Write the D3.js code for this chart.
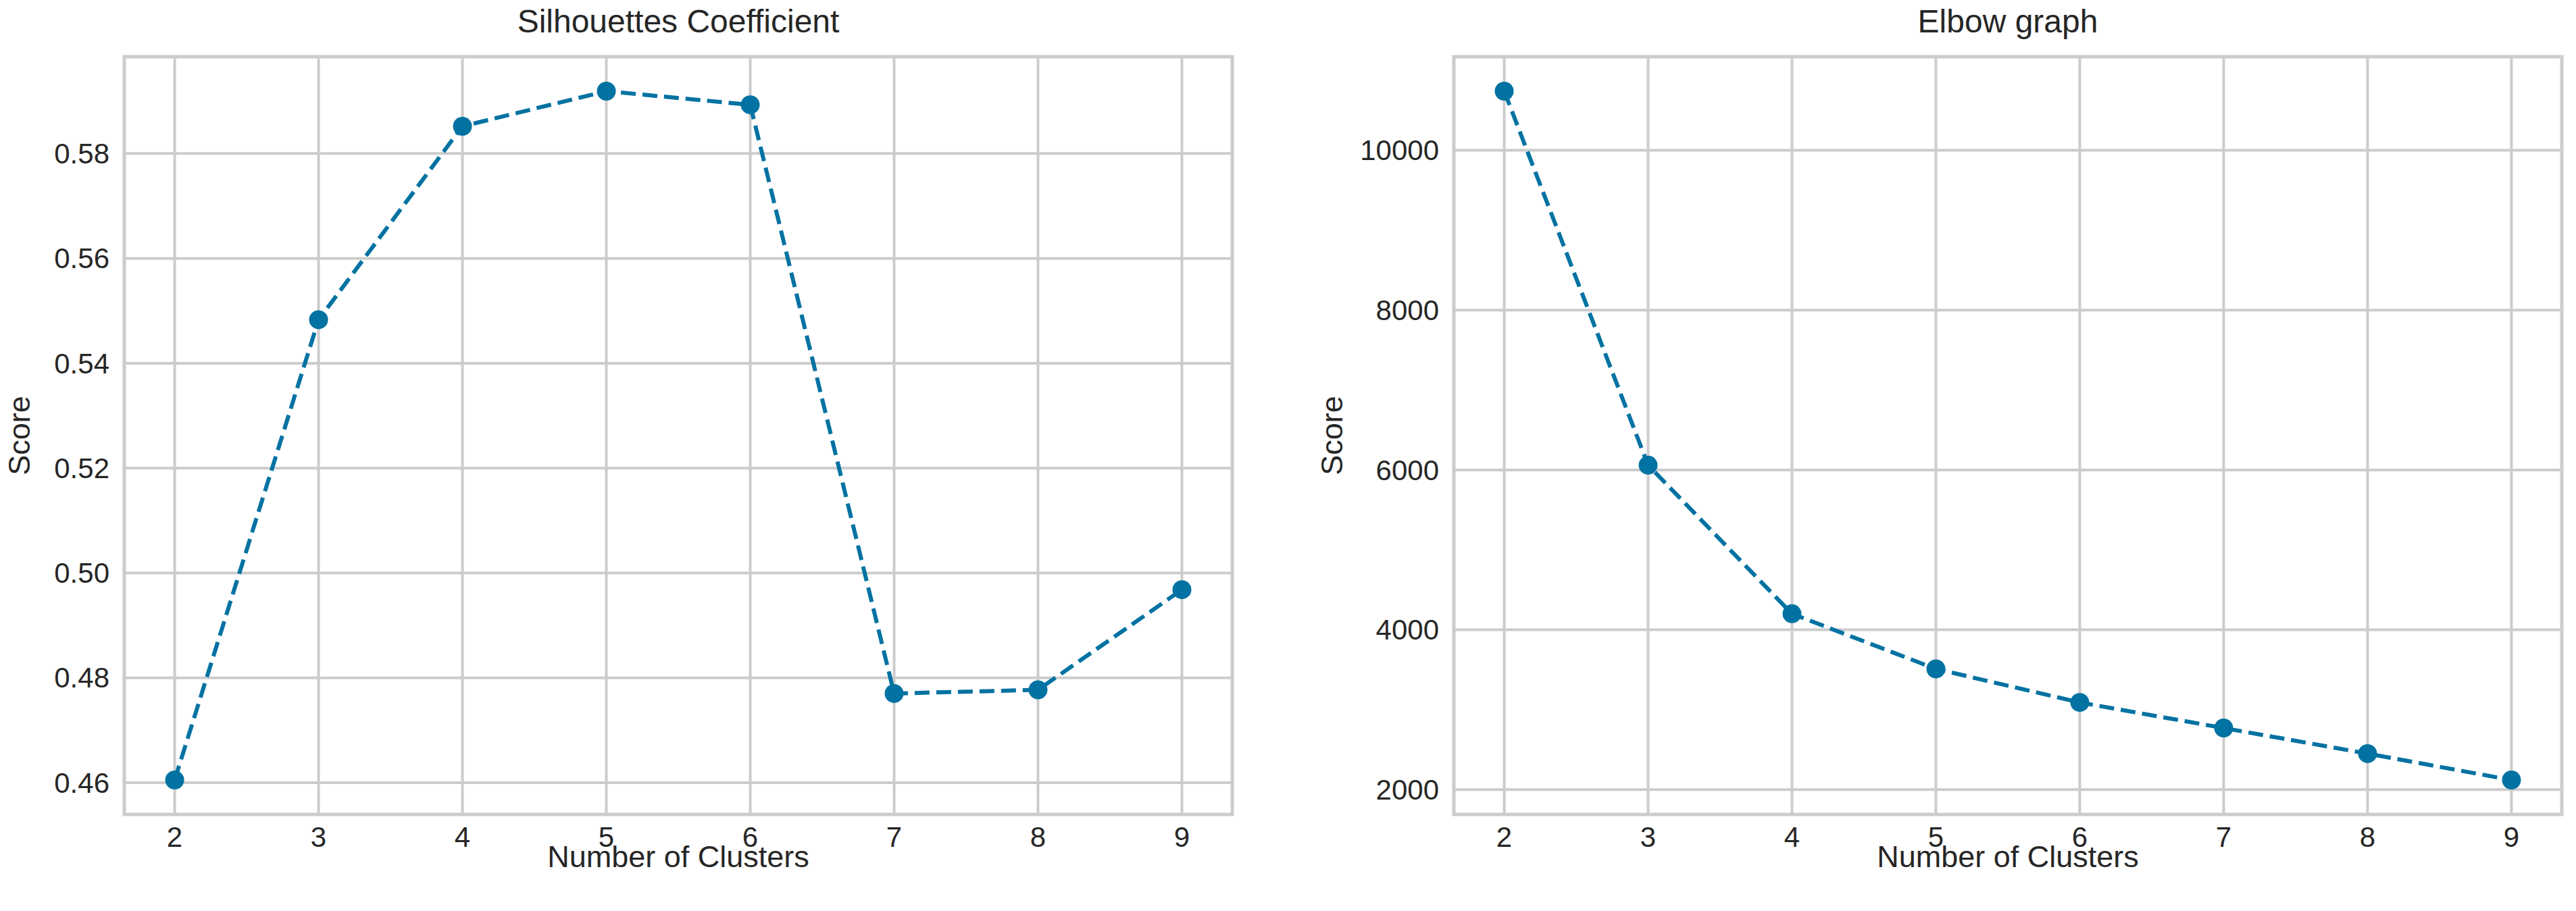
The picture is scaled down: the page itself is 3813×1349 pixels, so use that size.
<!DOCTYPE html>
<html><head><meta charset="utf-8">
<script src="https://cdn.jsdelivr.net/npm/d3@7"></script>
<style>body{margin:0;background:#fff}text{font-family:"Liberation Sans",Arial,sans-serif;fill:#262626}</style>
</head><body><svg id="c"></svg>
<script>
const clusters = [2, 3, 4, 5, 6, 7, 8, 9];
const silhouette = [0.4605, 0.5483, 0.5852, 0.5919, 0.5893, 0.4770, 0.4777, 0.4968];
const elbow = [10740, 6060, 4200, 3510, 3090, 2770, 2450, 2120];
const silTicks = [0.46, 0.48, 0.50, 0.52, 0.54, 0.56, 0.58];
const elbowTicks = [2000, 4000, 6000, 8000, 10000];

const W = 3813, H = 1349;
const svg = d3.select('#c').attr('width', W).attr('height', H);
const yTop = 84, yBot = 1206, blue = '#0272a2';

function panel(x0, x1, vals, ticks, fmt, labelOff, title) {
  const g = svg.append('g');
  const x = d3.scaleLinear().domain([1.65, 9.35]).range([x0, x1]);
  const lo = d3.min(vals), hi = d3.max(vals), m = (hi - lo) * 0.05;
  const y = d3.scaleLinear().domain([lo - m, hi + m]).range([yBot, yTop]);

  g.selectAll('.gx').data(clusters).enter().append('line')
    .attr('x1', d => x(d)).attr('x2', d => x(d)).attr('y1', yTop).attr('y2', yBot)
    .attr('stroke', '#cccccc').attr('stroke-width', 4);
  g.selectAll('.gy').data(ticks).enter().append('line')
    .attr('x1', x0).attr('x2', x1).attr('y1', d => y(d)).attr('y2', d => y(d))
    .attr('stroke', '#cccccc').attr('stroke-width', 4);
  g.append('rect').attr('x', x0).attr('y', yTop).attr('width', x1 - x0).attr('height', yBot - yTop)
    .attr('fill', 'none').attr('stroke', '#cccccc').attr('stroke-width', 5);

  g.selectAll('.tx').data(clusters).enter().append('text')
    .attr('x', d => x(d)).attr('y', yBot + 48).attr('text-anchor', 'middle')
    .attr('font-size', 42).text(d => d);
  g.selectAll('.ty').data(ticks).enter().append('text')
    .attr('x', x0 - 22).attr('y', d => y(d)).attr('dy', '0.35em').attr('text-anchor', 'end')
    .attr('font-size', 42).text(fmt);

  g.append('text').attr('x', (x0 + x1) / 2).attr('y', 1284).attr('text-anchor', 'middle')
    .attr('font-size', 45).text('Number of Clusters');
  g.append('text').attr('transform', `translate(${x0 - labelOff},${(yTop + yBot) / 2}) rotate(-90)`)
    .attr('text-anchor', 'middle').attr('font-size', 45).text('Score');
  g.append('text').attr('x', (x0 + x1) / 2).attr('y', 48).attr('text-anchor', 'middle')
    .attr('font-size', 48).text(title);

  const line = d3.line().x((d, i) => x(clusters[i])).y(d => y(d));
  g.append('path').datum(vals).attr('d', line).attr('fill', 'none')
    .attr('stroke', blue).attr('stroke-width', 6).attr('stroke-dasharray', '22,10');
  g.selectAll('.pt').data(vals).enter().append('circle')
    .attr('cx', (d, i) => x(clusters[i])).attr('cy', d => y(d)).attr('r', 14).attr('fill', blue);
}
panel(184, 1824, silhouette, silTicks, d => d3.format('.2f')(d), 140, 'Silhouettes Coefficient');
panel(2152, 3792, elbow, elbowTicks, d => d, 165, 'Elbow graph');
</script></body></html>
